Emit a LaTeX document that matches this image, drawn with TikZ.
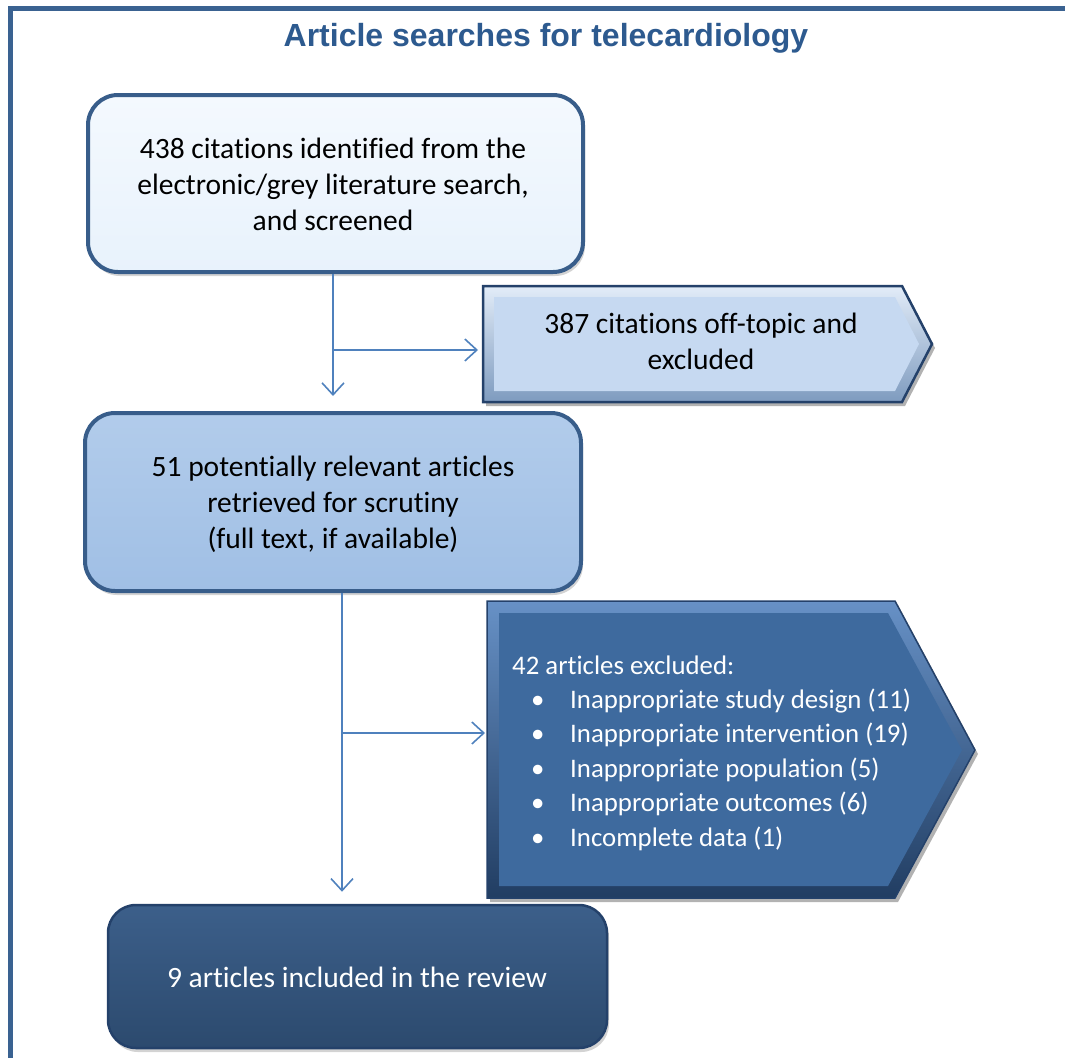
\documentclass[tikz,border=0pt]{standalone}
\usepackage{fontspec}
\setmainfont{Carlito}[Ligatures=NoCommon]
\newfontfamily\titlefont{Liberation Sans}
\usetikzlibrary{shadows,arrows.meta}
\definecolor{framec}{HTML}{3A6291}
\definecolor{titlec}{HTML}{2D5A8F}
\definecolor{conncol}{HTML}{4F81BD}
\definecolor{bordc}{HTML}{385D8A}
\definecolor{f1}{HTML}{E8F2FC}
\definecolor{f1top}{HTML}{F4F9FE}
\definecolor{f2}{HTML}{C6D9F1}
\definecolor{f2lt}{HTML}{E2ECF8}
\definecolor{f2dk}{HTML}{7E9BBF}
\definecolor{f3}{HTML}{A0BFE5}
\definecolor{f3top}{HTML}{B2CCEB}
\definecolor{f4}{HTML}{3E6A9E}
\definecolor{f4lt}{HTML}{6791C6}
\definecolor{f4dk}{HTML}{213D62}
\definecolor{f5}{HTML}{2C4A6E}
\definecolor{f5top}{HTML}{3C5F8A}
\definecolor{edgedk}{HTML}{24416A}
\begin{document}
\begin{tikzpicture}[x=1pt,y=-1pt,
  rbox/.style={draw=bordc, line width=4pt, rounded corners=30pt, inner sep=0pt,
     drop shadow={shadow xshift=2pt, shadow yshift=-4pt, opacity=0.35}},
  conn/.style={draw=conncol, line width=1.6pt, -{Straight Barb[length=12pt,width=22pt]}},
  txt/.style={font=\fontsize{29.5}{36}\selectfont, align=center, text=black},
  wtxt/.style={font=\fontsize{29.5}{36}\selectfont, align=center, text=white},
  ltxt/.style={font=\fontsize{26.8}{34}\selectfont, text=white, anchor=base west, inner sep=0pt}
]
\useasboundingbox (0,0) rectangle (1065,1057);
% outer frame
\draw[framec, line width=5pt] (10,1060) -- (10,8.5) -- (1068,8.5);
% title
\node[font=\titlefont\bfseries\fontsize{32}{36}\selectfont, text=titlec] (title) at (546,38) {Article searches for telecardiology};

% box 1
\node[rbox, top color=f1top, bottom color=f1, minimum width=495pt, minimum height=177pt] (b1) at (335.5,183.5) {};
\node[txt] (t1) at (333,184) {438 citations identified from the\\electronic/grey literature search,\\and screened};

% box 2 (pentagon)
\fill[black, opacity=0.3] (486,290) -- (905,290) -- (935,348) -- (905,406) -- (486,406) -- cycle;
\draw[edgedk, line width=2.5pt, top color=f2lt, bottom color=f2dk] (483,286) -- (902,286) -- (932,344) -- (902,402) -- (483,402) -- cycle;
\fill[f2] (494,297) -- (895,297) -- (919,344) -- (895,391) -- (494,391) -- cycle;
\node[txt] (t2) at (701,341) {387 citations off-topic and\\excluded};
\coordinate (b2in) at (478,350);

% box 3
\node[rbox, top color=f3top, bottom color=f3, minimum width=496pt, minimum height=178pt] (b3) at (333,502) {};
\node[txt] (t3) at (333,504) {51 potentially relevant articles\\retrieved for scrutiny\\ (full text, if available)};

% box 4 (pentagon)
\fill[black, opacity=0.3] (490,605) -- (898,605) -- (978,754) -- (898,902) -- (490,902) -- cycle;
\draw[edgedk, line width=1.5pt, top color=f4lt, bottom color=f4dk] (487,601) -- (895,601) -- (975,750) -- (895,898) -- (487,898) -- cycle;
\fill[f4] (499,613) -- (888,613) -- (962,750) -- (888,886) -- (499,886) -- cycle;
\node[ltxt] (h4) at (512,674) {42 articles excluded:};
\foreach \i/\t in {1/Inappropriate study design (11),2/Inappropriate intervention (19),3/Inappropriate population (5),4/Inappropriate outcomes (6),5/Incomplete data (1)}{
  \node[ltxt] (bul\i) at (531,674+34.4*\i) {•};
  \node[ltxt] (it\i) at (570,674+34.4*\i) {\t};
}
\coordinate (b4in) at (485,733);

% box 5
\node[rbox, draw=edgedk, line width=2.5pt, top color=f5top, bottom color=f5, rounded corners=28pt, minimum width=499pt, minimum height=143pt] (b5) at (357.5,976.5) {};
\node[wtxt] (t5) at (357,977) {9 articles included in the review};

% connectors
\draw[conn] ([xshift=-2.5pt]b1.south) -- ([xshift=-2.5pt,yshift=15pt]b1.south |- b3.north);
\draw[conn] ([xshift=-2.5pt]b1.south |- b2in) -- (b2in);
\draw[conn] ([xshift=9pt]b3.south) -- ([xshift=9pt,yshift=12pt]b3.south |- b5.north);
\draw[conn] ([xshift=9pt]b3.south |- b4in) -- (b4in);
\end{tikzpicture}
\end{document}
